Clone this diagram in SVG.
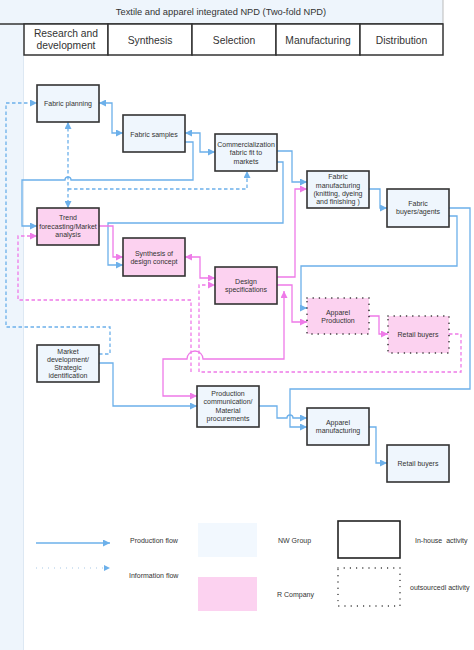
<svg xmlns="http://www.w3.org/2000/svg" width="474" height="650" viewBox="0 0 474 650">
<style>
text{font-family:"Liberation Sans",Arial,sans-serif;fill:#333;}
.t{font-size:7px;text-anchor:middle;dominant-baseline:central;}
.h{font-size:10.3px;text-anchor:middle;dominant-baseline:central;}
.lg{font-size:7px;dominant-baseline:central;}
.nb{fill:#eff6fd;stroke:#333;stroke-width:1.6;}
.np{fill:#fcd2f0;stroke:#333;stroke-width:1.6;}
.no{fill:#fcd2f0;stroke:#222;stroke-width:1.6;stroke-dasharray:0 6.2;stroke-linecap:round;}
.pf{fill:none;stroke:#6cb0ea;stroke-width:1.3;}
.if{fill:none;stroke:#6cb0ea;stroke-width:1.3;stroke-dasharray:3.5 2.5;}
.pp{fill:none;stroke:#ee7ae8;stroke-width:1.3;}
.pd{fill:none;stroke:#ee7ae8;stroke-width:1.3;stroke-dasharray:3.5 2.5;}
.hc{fill:#fff;stroke:#333;stroke-width:1.5;}
</style>
<defs>
<marker id="ab" viewBox="0 0 10 10" refX="10" refY="5" markerWidth="8" markerHeight="7" markerUnits="userSpaceOnUse" orient="auto-start-reverse"><path d="M0,0 L10,5 L0,10 z" fill="#6cb0ea"/></marker>
<marker id="ap" viewBox="0 0 10 10" refX="10" refY="5" markerWidth="8" markerHeight="7" markerUnits="userSpaceOnUse" orient="auto-start-reverse"><path d="M0,0 L10,5 L0,10 z" fill="#ee7ae8"/></marker>
</defs>
<rect x="0" y="0" width="474" height="650" fill="#fff"/>
<g id="background">
<rect x="0" y="0" width="443" height="24" fill="#eef5fc"/>
<rect x="0" y="24" width="23.5" height="626" fill="#eef5fc"/>
<line x1="23.5" y1="55" x2="23.5" y2="650" stroke="#dde8f3" stroke-width="1"/>
<line x1="443" y1="0" x2="443" y2="24" stroke="#bbb" stroke-width="1"/>
<line x1="0" y1="24" x2="443" y2="24" stroke="#333" stroke-width="1.5"/>
<text class="h" x="221" y="12" style="font-size:9.3px">Textile and apparel integrated NPD (Two-fold NPD)</text>
</g>
<g id="header">
<rect class="hc" x="24" y="24" width="84" height="31"/>
<rect class="hc" x="108" y="24" width="84" height="31"/>
<rect class="hc" x="192" y="24" width="84" height="31"/>
<rect class="hc" x="276" y="24" width="84" height="31"/>
<rect class="hc" x="360" y="24" width="83" height="31"/>
<text class="h" x="66" y="33.5">Research and</text>
<text class="h" x="66" y="45.5">development</text>
<text class="h" x="150" y="40">Synthesis</text>
<text class="h" x="234" y="40">Selection</text>
<text class="h" x="318" y="40">Manufacturing</text>
<text class="h" x="401.5" y="40">Distribution</text>
</g>
<g id="connectors">
<path class="pf" d="M99,103 H112 V133 H123" marker-start="url(#ab)" marker-end="url(#ab)"/>
<path class="pf" d="M185,133 H200 V152 H215" marker-start="url(#ab)" marker-end="url(#ab)"/>
<path class="pf" d="M185,142 H193 V180 H71 A3,3 0 0 0 65,180 H22 V226 H37" marker-end="url(#ab)"/>
<path class="pf" d="M277,151 H292 V182 H307" marker-end="url(#ab)"/>
<path class="pf" d="M277,162 H283 V223 H108 V265 H123" marker-end="url(#ab)"/>
<path class="pf" d="M369,189 H380 V208 H387" marker-end="url(#ab)"/>
<path class="pf" d="M449,208 H470 V389 H290 V427 H307" marker-end="url(#ab)"/>
<path class="pf" d="M449,216 H457 V266 H301 V308 H307" marker-end="url(#ab)"/>
<path class="pf" d="M99,363 H113 V406 H197" marker-end="url(#ab)"/>
<path class="pf" d="M259,406 H277 V418 H287 A3,3 0 0 1 293,418 H307" marker-end="url(#ab)"/>
<path class="pf" d="M369,427 H376 V463 H387" marker-end="url(#ab)"/>
<path class="if" d="M68,122 V208" marker-start="url(#ab)" marker-end="url(#ab)"/>
<path class="if" d="M68,189 H247 V171" marker-end="url(#ab)"/>
<path class="if" d="M99,354 H110 V327 H6 V103 H37" marker-end="url(#ab)"/>
<path class="pp" d="M277,277 H295 V189 H307" marker-end="url(#ap)"/>
<path class="pp" d="M185,257 H200 V278 H215" marker-start="url(#ap)" marker-end="url(#ap)"/>
<path class="pp" d="M99,226 H113 V257 H123" marker-end="url(#ap)"/>
<path class="pp" d="M277,285 H292 V322 H307" marker-end="url(#ap)"/>
<path class="pp" d="M284,291 V359 H203 A8,8 0 0 0 187,359 H163 V396 H197" marker-start="url(#ap)" marker-end="url(#ap)"/>
<path class="pp" d="M369,316 H379 V334 H388" marker-end="url(#ap)"/>
<path class="pd" d="M449,334 H461 V372 H199 V285 H215" marker-end="url(#ap)"/>
<path class="pd" d="M191,372 V300 H18 V236 H37" marker-end="url(#ap)"/>
</g>
<g id="fabric-planning"><rect class="nb" x="37" y="85" width="62" height="37"/><text class="t" x="68" y="103">Fabric planning</text></g>
<g id="fabric-samples"><rect class="nb" x="123" y="115" width="62" height="37"/><text class="t" x="154" y="134">Fabric samples</text></g>
<g id="commercialization"><rect class="nb" x="215" y="134" width="62" height="37"/><text class="t" x="246" y="144">Commercialization</text><text class="t" x="246" y="152.5">fabric fit to</text><text class="t" x="246" y="161">markets</text></g>
<g id="fabric-manufacturing"><rect class="nb" x="307" y="171" width="62" height="37"/><text class="t" x="338" y="176.7">Fabric</text><text class="t" x="338" y="185">manufacturing</text><text class="t" x="338" y="193.3">(knitting, dyeing</text><text class="t" x="338" y="201.5">and finishing )</text></g>
<g id="fabric-buyers"><rect class="nb" x="387" y="189" width="62" height="38"/><text class="t" x="418" y="203">Fabric</text><text class="t" x="418" y="211">buyers/agents</text></g>
<g id="trend-forecasting"><rect class="np" x="37" y="208" width="62" height="37"/><text class="t" x="68" y="217.5">Trend</text><text class="t" x="68" y="226">forecasting/Market</text><text class="t" x="68" y="234.5">analysis</text></g>
<g id="synthesis-design"><rect class="np" x="123" y="238" width="62" height="38"/><text class="t" x="154" y="253">Synthesis of</text><text class="t" x="154" y="261.5">design concept</text></g>
<g id="design-specifications"><rect class="np" x="215" y="267" width="62" height="37"/><text class="t" x="246" y="281">Design</text><text class="t" x="246" y="289.5">specifications</text></g>
<g id="apparel-production"><rect class="no" x="307" y="298" width="62" height="36"/><text class="t" x="338" y="312">Apparel</text><text class="t" x="338" y="320.5">Production</text></g>
<g id="retail-buyers-r"><rect class="no" x="388" y="316" width="61" height="37"/><text class="t" x="418" y="334">Retail buyers</text></g>
<g id="market-development"><rect class="nb" x="37" y="345" width="62" height="37"/><text class="t" x="68" y="351">Market</text><text class="t" x="68" y="359.2">development/</text><text class="t" x="68" y="367.4">Strategic</text><text class="t" x="68" y="375.6">identification</text></g>
<g id="production-communication"><rect class="nb" x="197" y="386" width="62" height="41"/><text class="t" x="228" y="393.5">Production</text><text class="t" x="228" y="401.8">communication/</text><text class="t" x="228" y="410.1">Material</text><text class="t" x="228" y="418.4">procurements</text></g>
<g id="apparel-manufacturing"><rect class="nb" x="307" y="408" width="62" height="37"/><text class="t" x="338" y="422">Apparel</text><text class="t" x="338" y="430.5">manufacturing</text></g>
<g id="retail-buyers-nw"><rect class="nb" x="387" y="445" width="62" height="37"/><text class="t" x="418" y="463">Retail buyers</text></g>
<g id="legend">
<line x1="36" y1="543" x2="110" y2="543" class="pf" marker-end="url(#ab)"/>
<line x1="36" y1="568" x2="104" y2="568" stroke="#a9c9e6" stroke-width="1" stroke-dasharray="1 5"/>
<path d="M104,565 L110,568 L104,571 z" fill="#6cb0ea"/>
<text class="lg" x="130" y="540">Production flow</text>
<text class="lg" x="129" y="575.5">Information flow</text>
<rect x="198" y="523" width="59" height="34" fill="#f2f8fe"/>
<rect x="198" y="577" width="59" height="34" fill="#fcd2f0"/>
<text class="lg" x="278" y="540">NW Group</text>
<text class="lg" x="277" y="594">R Company</text>
<rect x="338" y="521" width="62" height="37" fill="#fff" stroke="#222" stroke-width="1.6"/>
<rect x="338" y="568" width="62" height="38" fill="none" stroke="#222" stroke-width="1.4" stroke-dasharray="0 6.2" stroke-linecap="round"/>
<text class="lg" x="415" y="540" xml:space="preserve">In-house  activity</text>
<text class="lg" x="410" y="587">outsourcedl activity</text>
</g>
</svg>
